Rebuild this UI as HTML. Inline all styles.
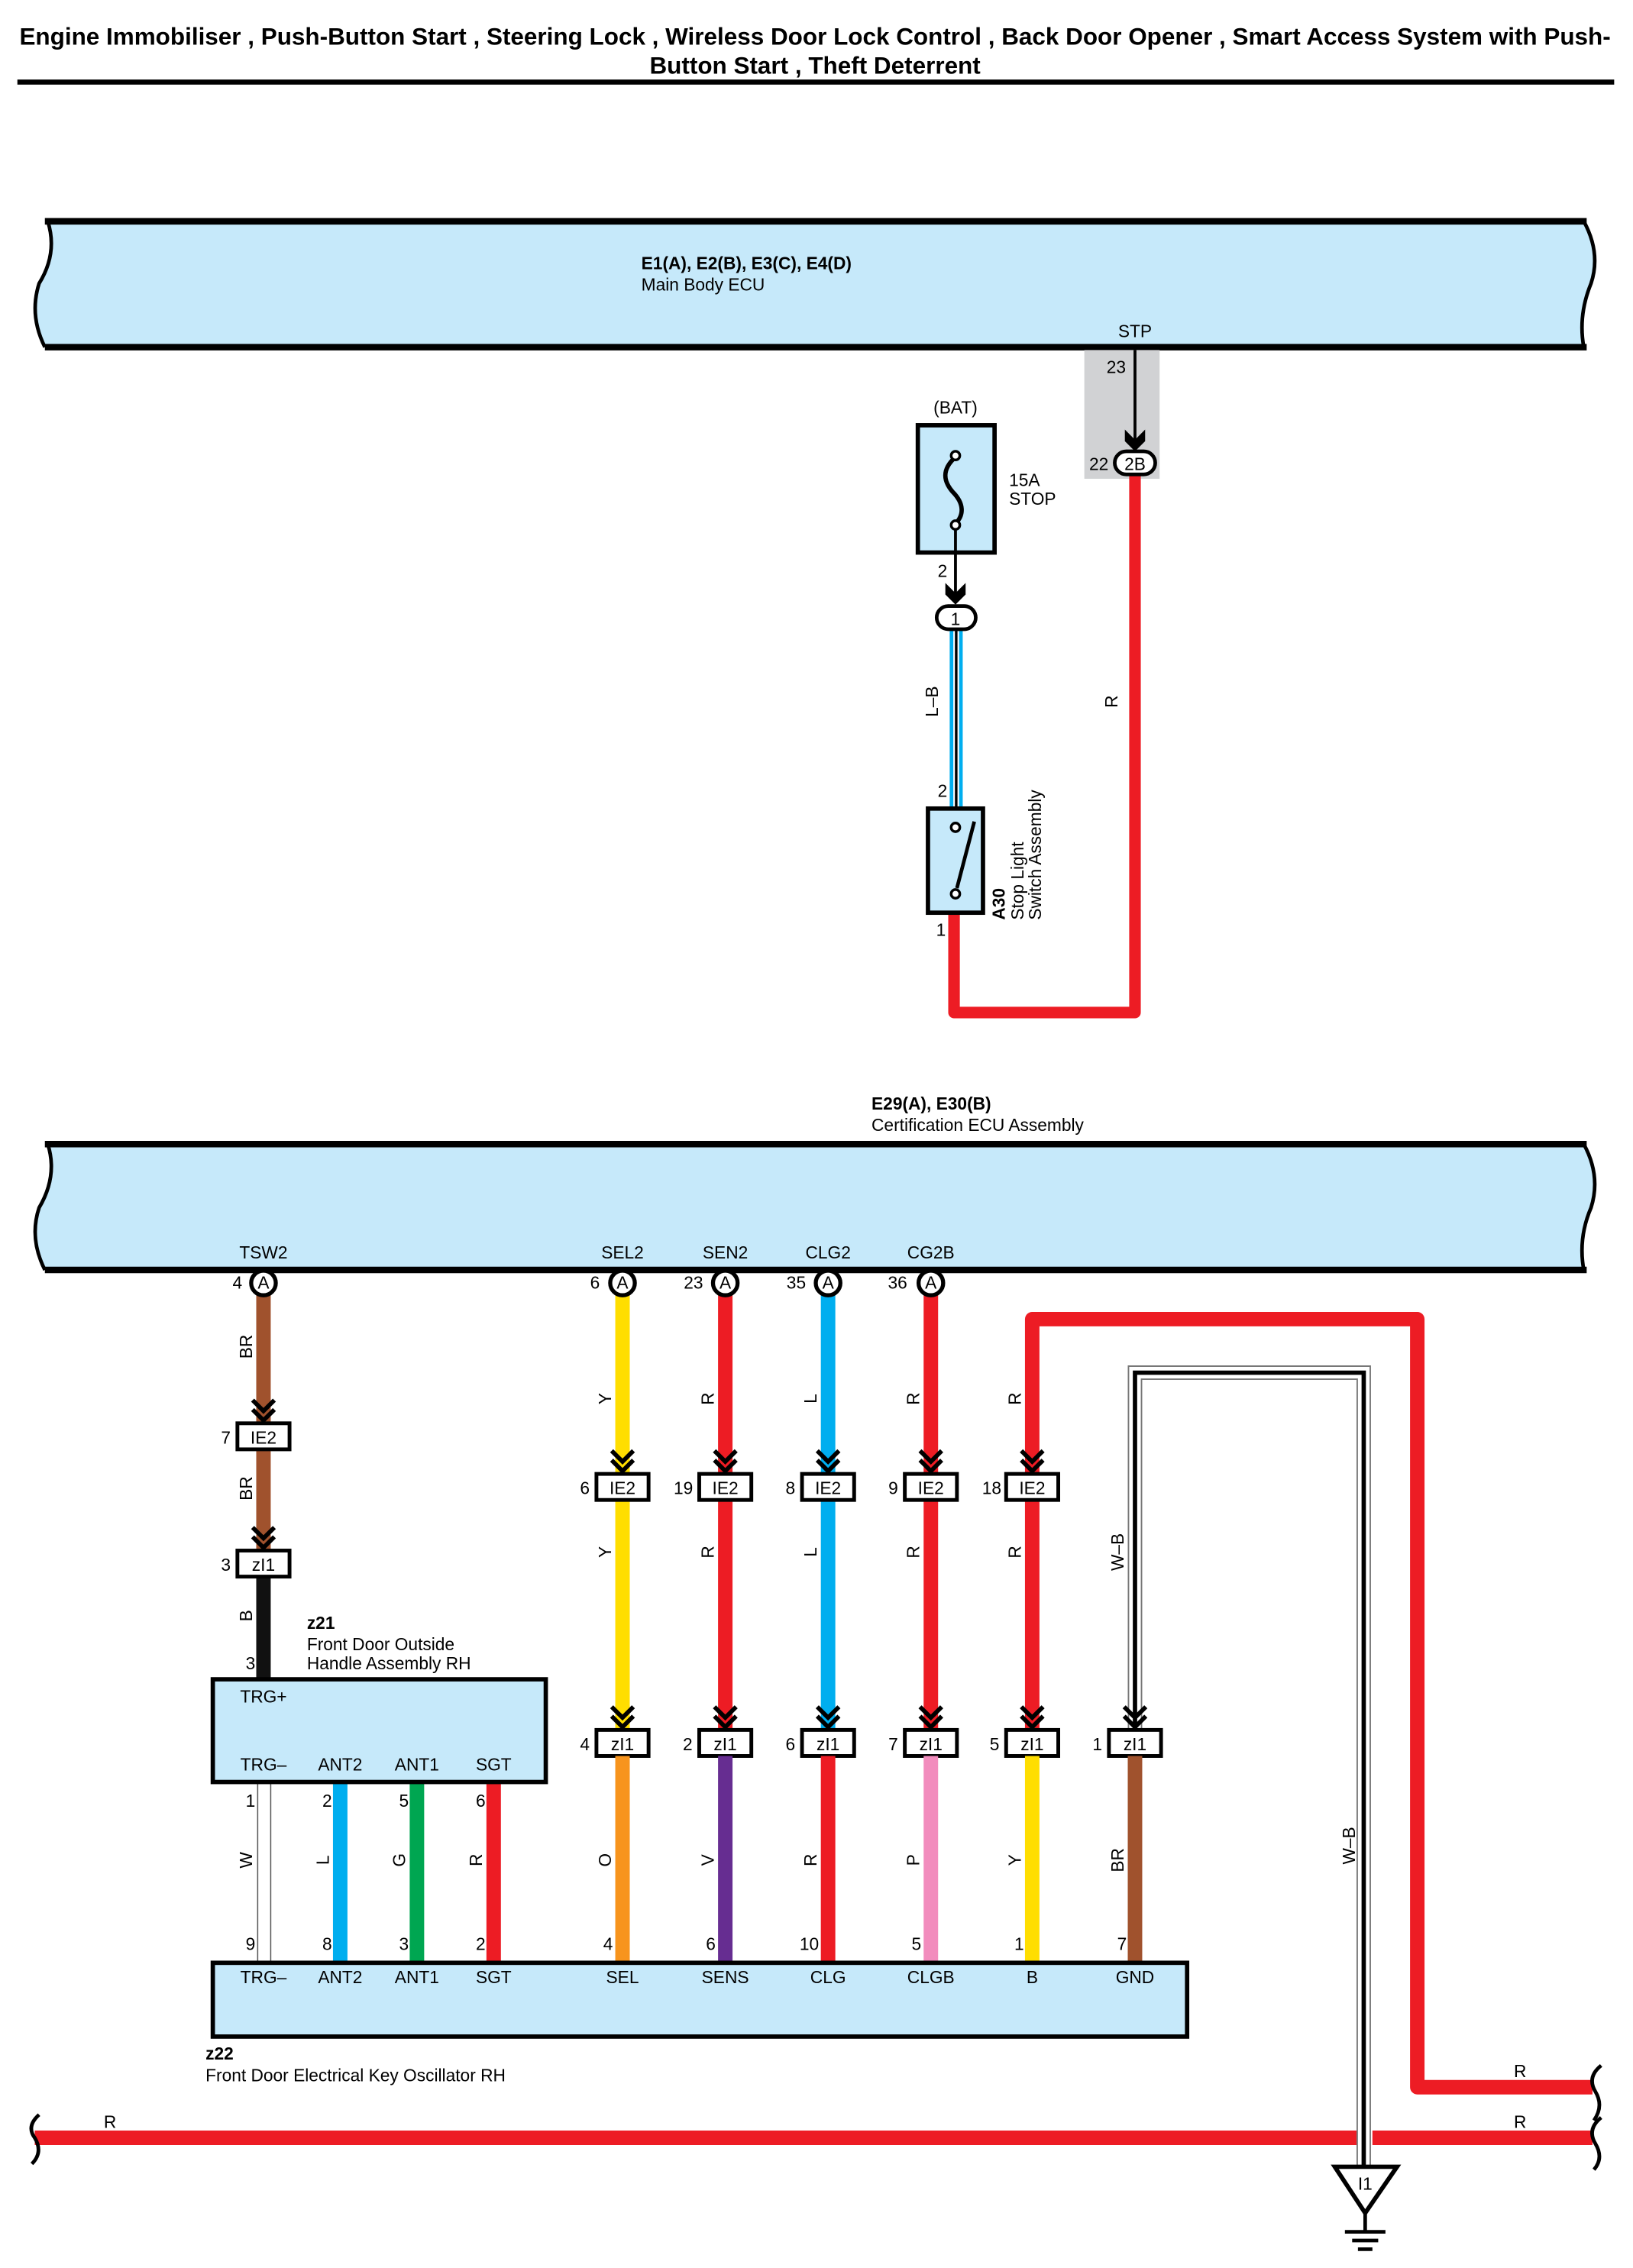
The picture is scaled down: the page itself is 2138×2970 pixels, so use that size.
<!DOCTYPE html>
<html><head><meta charset="utf-8"><style>
html,body{margin:0;padding:0;background:#fff;}
svg{display:block;font-family:"Liberation Sans",Arial,sans-serif;}
</style></head><body>
<svg width="2138" height="2970" viewBox="0 0 1128 1568" preserveAspectRatio="none" xmlns="http://www.w3.org/2000/svg">
<defs>
<path id="ch" d="M-7.5,-16 L0,-8.5 L7.5,-16 M-7.5,-9.5 L0,-2 L7.5,-9.5" stroke="#000" stroke-width="3" fill="none"/>
</defs>
<rect width="1128" height="1568" fill="#fff"/>
<!-- Title -->
<g font-weight="bold" font-size="16.6" text-anchor="middle" fill="#000">
<text x="563" y="31">Engine Immobiliser , Push-Button Start , Steering Lock , Wireless Door Lock Control , Back Door Opener , Smart Access System with Push-</text>
<text x="563" y="51">Button Start , Theft Deterrent</text>
</g>
<rect x="12" y="55" width="1103" height="3.5" fill="#000"/>

<!-- Main Body ECU -->
<path d="M33,153 L1094,153 Q1106,175 1099,196 Q1090,218 1094,240 L31,240 Q20,218 27,196 Q40,175 33,153 Z" fill="#c6e9fa" stroke="none"/>
<path d="M31,153 L1096,153 M31,240 L1096,240" stroke="#000" stroke-width="4.5"/>
<path d="M33,153 Q40,175 27,196 Q20,218 31,240 M1094,153 Q1106,175 1099,196 Q1090,218 1094,240" stroke="#000" stroke-width="2.5" fill="none"/>
<text x="443" y="186" font-size="12" font-weight="bold">E1(A), E2(B), E3(C), E4(D)</text>
<text x="443" y="201" font-size="12">Main Body ECU</text>
<text x="784" y="233" font-size="12" text-anchor="middle">STP</text>

<rect x="749" y="242" width="52" height="89" fill="#d1d2d4"/>
<line x1="784" y1="242" x2="784" y2="305" stroke="#000" stroke-width="2"/>
<path d="M777,297 L784,304 L791,297 L791,305 L784,312 L777,305 Z" fill="#000"/>
<text x="771" y="258" font-size="12" text-anchor="middle">23</text>
<text x="759" y="325" font-size="12" text-anchor="middle">22</text>
<path d="M784,328 L784,700 L659,700 L659,631" stroke="#ed1c24" stroke-width="8" fill="none" stroke-linejoin="round"/>
<rect x="770" y="312" width="28" height="16" rx="8" fill="#fff" stroke="#000" stroke-width="2.5"/>
<text x="784" y="325" font-size="12" text-anchor="middle">2B</text>
<text x="776" y="489" font-size="12" text-anchor="middle" transform="rotate(-90 772 489)">R</text>

<!-- Fuse -->
<text x="660" y="286" font-size="12" text-anchor="middle">(BAT)</text>
<rect x="634" y="294" width="53" height="88" fill="#c6e9fa" stroke="#000" stroke-width="3"/>
<path d="M660,316 C650,325 652,333 658,340 C666,348 666,356 660,362" stroke="#000" stroke-width="3" fill="none"/>
<circle cx="660" cy="315" r="3" fill="#fff" stroke="#000" stroke-width="1.8"/>
<circle cx="660" cy="363" r="3" fill="#fff" stroke="#000" stroke-width="1.8"/>
<line x1="660" y1="366" x2="660" y2="412" stroke="#000" stroke-width="2"/>
<path d="M653,403 L660,410 L667,403 L667,411 L660,418 L653,411 Z" fill="#000"/>
<text x="697" y="336" font-size="12">15A</text>
<text x="697" y="349" font-size="12">STOP</text>
<text x="651" y="399" font-size="12" text-anchor="middle">2</text>
<rect x="656" y="435" width="9" height="125" fill="#00aeef"/>
<rect x="658.5" y="435" width="4" height="125" fill="#fff"/>
<line x1="660.5" y1="435" x2="660.5" y2="560" stroke="#000" stroke-width="1.8"/>
<rect x="647" y="419" width="27" height="16" rx="8" fill="#fff" stroke="#000" stroke-width="2.5"/>
<text x="660" y="432" font-size="12" text-anchor="middle">1</text>
<text x="652" y="489" font-size="12" text-anchor="middle" transform="rotate(-90 648 489)">L–B</text>
<text x="651" y="551" font-size="12" text-anchor="middle">2</text>
<rect x="641" y="559" width="38" height="72" fill="#c6e9fa" stroke="#000" stroke-width="3"/>
<circle cx="660" cy="572" r="3" fill="#fff" stroke="#000" stroke-width="1.8"/>
<circle cx="660" cy="618" r="3" fill="#fff" stroke="#000" stroke-width="1.8"/>
<line x1="661" y1="614" x2="673" y2="568" stroke="#000" stroke-width="2.5"/>
<text x="650" y="647" font-size="12" text-anchor="middle">1</text>
<g transform="translate(694,636) rotate(-90)" font-size="12">
<text x="0" y="0" font-weight="bold">A30</text>
<text x="0" y="13">Stop Light</text>
<text x="0" y="25">Switch Assembly</text>
</g>

<!-- Certification ECU -->
<text x="602" y="767" font-size="12" font-weight="bold">E29(A), E30(B)</text>
<text x="602" y="782" font-size="12">Certification ECU Assembly</text>
<path d="M33,791 L1094,791 Q1106,813 1099,835 Q1090,856 1094,878 L31,878 Q20,856 27,835 Q40,813 33,791 Z" fill="#c6e9fa"/>
<path d="M31,791 L1096,791 M31,878 L1096,878" stroke="#000" stroke-width="4.5"/>
<path d="M33,791 Q40,813 27,835 Q20,856 31,878 M1094,791 Q1106,813 1099,835 Q1090,856 1094,878" stroke="#000" stroke-width="2.5" fill="none"/>
<g font-size="12" text-anchor="middle">
<text x="182" y="870">TSW2</text><text x="430" y="870">SEL2</text><text x="501" y="870">SEN2</text><text x="572" y="870">CLG2</text><text x="643" y="870">CG2B</text>
</g>

<!-- upper wires -->
<g stroke-width="10" fill="none">
<line x1="182" y1="895" x2="182" y2="984" stroke="#a0522d"/>
<line x1="182" y1="1002" x2="182" y2="1072" stroke="#a0522d"/>
<line x1="182" y1="1090" x2="182" y2="1162" stroke="#111"/>
<line x1="430" y1="895" x2="430" y2="1196" stroke="#ffde00"/>
<line x1="501" y1="895" x2="501" y2="1196" stroke="#ed1c24"/>
<line x1="572" y1="895" x2="572" y2="1196" stroke="#00aeef"/>
<line x1="643" y1="895" x2="643" y2="1196" stroke="#ed1c24"/>
<path d="M713,1196 L713,912 L979,912 L979,1443 L1100,1443" stroke="#ed1c24" stroke-linejoin="round"/>
</g>
<!-- W-B wire -->
<path d="M784,1196 L784,949 L942,949 L942,1498" stroke="#777" stroke-width="10" fill="none"/>
<path d="M784,1196 L784,949 L942,949 L942,1498" stroke="#fff" stroke-width="8" fill="none"/>
<path d="M784,1196 L784,949 L942,949 L942,1498" stroke="#000" stroke-width="3" fill="none"/>

<!-- A circles -->
<g font-size="12" text-anchor="middle">
<circle cx="182" cy="887" r="8.5" fill="#fff" stroke="#000" stroke-width="2.8"/><text x="182" y="891">A</text>
<circle cx="430" cy="887" r="8.5" fill="#fff" stroke="#000" stroke-width="2.8"/><text x="430" y="891">A</text>
<circle cx="501" cy="887" r="8.5" fill="#fff" stroke="#000" stroke-width="2.8"/><text x="501" y="891">A</text>
<circle cx="572" cy="887" r="8.5" fill="#fff" stroke="#000" stroke-width="2.8"/><text x="572" y="891">A</text>
<circle cx="643" cy="887" r="8.5" fill="#fff" stroke="#000" stroke-width="2.8"/><text x="643" y="891">A</text>
<text x="164" y="891">4</text><text x="411" y="891">6</text><text x="479" y="891">23</text><text x="550" y="891">35</text><text x="620" y="891">36</text>
</g>

<!-- chevrons -->
<use href="#ch" x="182" y="984"/><use href="#ch" x="182" y="1072"/>
<use href="#ch" x="430" y="1019"/><use href="#ch" x="501" y="1019"/><use href="#ch" x="572" y="1019"/><use href="#ch" x="643" y="1019"/><use href="#ch" x="713" y="1019"/>
<use href="#ch" x="430" y="1196"/><use href="#ch" x="501" y="1196"/><use href="#ch" x="572" y="1196"/><use href="#ch" x="643" y="1196"/><use href="#ch" x="713" y="1196"/><use href="#ch" x="784" y="1196"/>

<!-- connector boxes -->
<g fill="#fff" stroke="#000" stroke-width="2.6">
<rect x="164" y="984" width="36" height="18"/><rect x="164" y="1072" width="36" height="18"/>
<rect x="412" y="1019" width="36" height="18"/><rect x="483" y="1019" width="36" height="18"/><rect x="554" y="1019" width="36" height="18"/><rect x="625" y="1019" width="36" height="18"/><rect x="695" y="1019" width="36" height="18"/>
<rect x="412" y="1196" width="36" height="18"/><rect x="483" y="1196" width="36" height="18"/><rect x="554" y="1196" width="36" height="18"/><rect x="625" y="1196" width="36" height="18"/><rect x="695" y="1196" width="36" height="18"/><rect x="766" y="1196" width="36" height="18"/>
</g>
<g font-size="12" text-anchor="middle">
<text x="182" y="998">IE2</text><text x="182" y="1086">zI1</text>
<text x="430" y="1033">IE2</text><text x="501" y="1033">IE2</text><text x="572" y="1033">IE2</text><text x="643" y="1033">IE2</text><text x="713" y="1033">IE2</text>
<text x="430" y="1210">zI1</text><text x="501" y="1210">zI1</text><text x="572" y="1210">zI1</text><text x="643" y="1210">zI1</text><text x="713" y="1210">zI1</text><text x="784" y="1210">zI1</text>
<text x="156" y="998">7</text><text x="156" y="1086">3</text>
<text x="404" y="1033">6</text><text x="472" y="1033">19</text><text x="546" y="1033">8</text><text x="617" y="1033">9</text><text x="685" y="1033">18</text>
<text x="404" y="1210">4</text><text x="475" y="1210">2</text><text x="546" y="1210">6</text><text x="617" y="1210">7</text><text x="687" y="1210">5</text><text x="758" y="1210">1</text>
<text x="173" y="1154">3</text>
</g>
<!-- rotated wire labels -->
<g font-size="12" text-anchor="middle">
<text transform="translate(174,931) rotate(-90)">BR</text>
<text transform="translate(174,1029) rotate(-90)">BR</text>
<text transform="translate(174,1117) rotate(-90)">B</text>
<text transform="translate(422,967) rotate(-90)">Y</text><text transform="translate(493,967) rotate(-90)">R</text><text transform="translate(564,967) rotate(-90)">L</text><text transform="translate(635,967) rotate(-90)">R</text><text transform="translate(705,967) rotate(-90)">R</text>
<text transform="translate(422,1073) rotate(-90)">Y</text><text transform="translate(493,1073) rotate(-90)">R</text><text transform="translate(564,1073) rotate(-90)">L</text><text transform="translate(635,1073) rotate(-90)">R</text><text transform="translate(705,1073) rotate(-90)">R</text>
<text transform="translate(776,1073) rotate(-90)">W–B</text>
<text transform="translate(936,1276) rotate(-90)">W–B</text>
<text transform="translate(174,1286) rotate(-90)">W</text><text transform="translate(227,1286) rotate(-90)">L</text><text transform="translate(280,1286) rotate(-90)">G</text><text transform="translate(333,1286) rotate(-90)">R</text>
<text transform="translate(422,1286) rotate(-90)">O</text><text transform="translate(493,1286) rotate(-90)">V</text><text transform="translate(564,1286) rotate(-90)">R</text><text transform="translate(635,1286) rotate(-90)">P</text><text transform="translate(705,1286) rotate(-90)">Y</text><text transform="translate(776,1286) rotate(-90)">BR</text>
</g>

<!-- z21 -->
<text x="212" y="1126" font-size="12" font-weight="bold">z21</text>
<text x="212" y="1141" font-size="12">Front Door Outside</text>
<text x="212" y="1154" font-size="12">Handle Assembly RH</text>

<!-- lower wires -->
<g stroke-width="10" fill="none">
<line x1="235" y1="1232" x2="235" y2="1357" stroke="#00aeef"/>
<line x1="288" y1="1232" x2="288" y2="1357" stroke="#00a651"/>
<line x1="341" y1="1232" x2="341" y2="1357" stroke="#ed1c24"/>
<line x1="430" y1="1214" x2="430" y2="1357" stroke="#f7941d"/>
<line x1="501" y1="1214" x2="501" y2="1357" stroke="#662d91"/>
<line x1="572" y1="1214" x2="572" y2="1357" stroke="#ed1c24"/>
<line x1="643" y1="1214" x2="643" y2="1357" stroke="#f28cbd"/>
<line x1="713" y1="1214" x2="713" y2="1357" stroke="#ffde00"/>
<line x1="784" y1="1214" x2="784" y2="1357" stroke="#a0522d"/>
</g>
<rect x="178" y="1232" width="9" height="125" fill="#fff" stroke="#555" stroke-width="0.8"/>
<rect x="147" y="1161" width="230" height="71" fill="#c6e9fa" stroke="#000" stroke-width="3"/>
<g font-size="12" text-anchor="middle">
<text x="182" y="1177">TRG+</text>
<text x="182" y="1224">TRG–</text><text x="235" y="1224">ANT2</text><text x="288" y="1224">ANT1</text><text x="341" y="1224">SGT</text>
<text x="173" y="1249">1</text><text x="226" y="1249">2</text><text x="279" y="1249">5</text><text x="332" y="1249">6</text>
<text x="173" y="1348">9</text><text x="226" y="1348">8</text><text x="279" y="1348">3</text><text x="332" y="1348">2</text>
<text x="420" y="1348">4</text><text x="491" y="1348">6</text><text x="559" y="1348">10</text><text x="633" y="1348">5</text><text x="704" y="1348">1</text><text x="775" y="1348">7</text>
</g>
<rect x="147" y="1357" width="673" height="51" fill="#c6e9fa" stroke="#000" stroke-width="3"/>
<g font-size="12" text-anchor="middle">
<text x="182" y="1371">TRG–</text><text x="235" y="1371">ANT2</text><text x="288" y="1371">ANT1</text><text x="341" y="1371">SGT</text><text x="430" y="1371">SEL</text><text x="501" y="1371">SENS</text><text x="572" y="1371">CLG</text><text x="643" y="1371">CLGB</text><text x="713" y="1371">B</text><text x="784" y="1371">GND</text>
</g>
<text x="142" y="1424" font-size="12" font-weight="bold">z22</text>
<text x="142" y="1439" font-size="12">Front Door Electrical Key Oscillator RH</text>

<!-- bottom red bus -->
<line x1="24" y1="1478" x2="937" y2="1478" stroke="#ed1c24" stroke-width="10"/>
<line x1="948" y1="1478" x2="1100" y2="1478" stroke="#ed1c24" stroke-width="10"/>
<text x="76" y="1471" font-size="12" text-anchor="middle">R</text>
<text x="1050" y="1436" font-size="12" text-anchor="middle">R</text>
<text x="1050" y="1471" font-size="12" text-anchor="middle">R</text>
<path d="M1106,1428 Q1096,1436 1102,1446 Q1108,1456 1101,1466 M1106,1464 Q1096,1472 1102,1482 Q1108,1492 1101,1500" stroke="#000" stroke-width="2.5" fill="none"/>
<path d="M27,1462 Q18,1470 24,1478 Q30,1488 22,1496" stroke="#000" stroke-width="2.5" fill="none"/>

<!-- ground -->
<path d="M922,1498 L965,1498 L943,1530 Z" fill="#fff" stroke="#000" stroke-width="3"/>
<text x="943" y="1514" font-size="12" text-anchor="middle">I1</text>
<line x1="943" y1="1530" x2="943" y2="1543" stroke="#000" stroke-width="2.5"/>
<line x1="929" y1="1543" x2="957" y2="1543" stroke="#000" stroke-width="2.5"/>
<line x1="934" y1="1549" x2="952" y2="1549" stroke="#000" stroke-width="2.5"/>
<line x1="938" y1="1555" x2="948" y2="1555" stroke="#000" stroke-width="2.5"/>
</svg>
</body></html>
